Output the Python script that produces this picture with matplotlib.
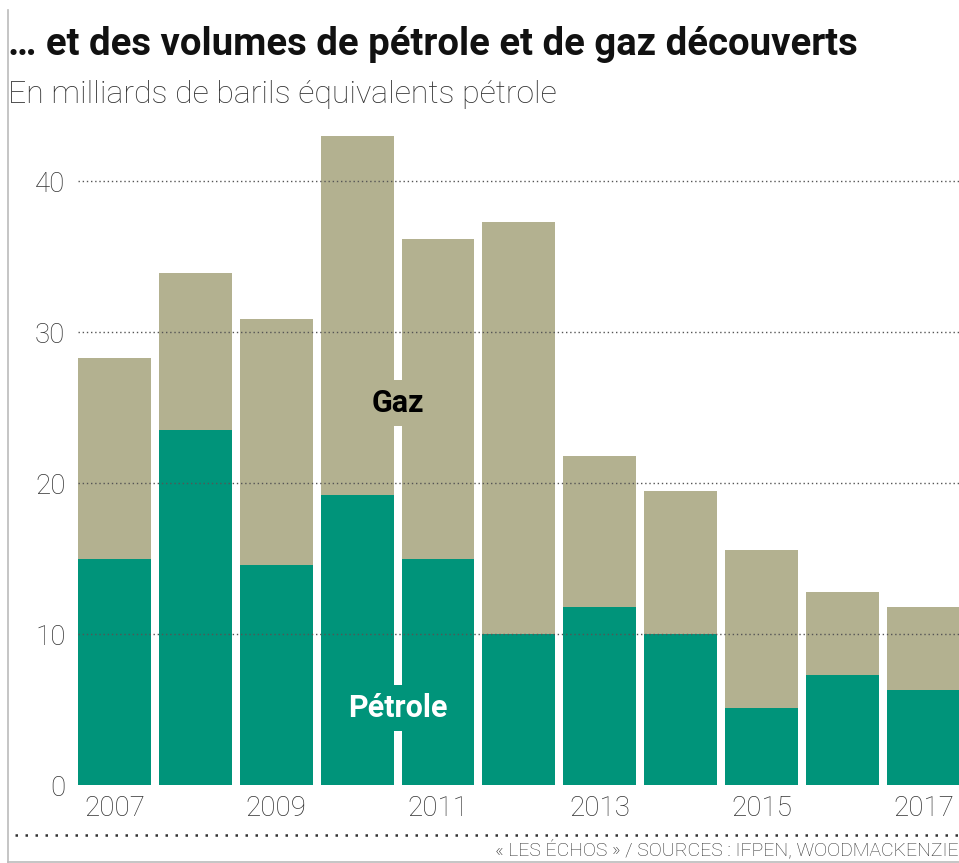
import numpy as np
import matplotlib
matplotlib.use("Agg")
import matplotlib.pyplot as plt
from matplotlib.lines import Line2D

# donnees (milliards de barils equivalent petrole)
annees = [2007, 2008, 2009, 2010, 2011, 2012, 2013, 2014, 2015, 2016, 2017]
petrole = [15.0, 23.5, 14.6, 19.2, 15.0, 10.0, 11.8, 10.0, 5.1, 7.3, 6.3]
total = [28.3, 33.9, 30.9, 43.0, 36.2, 37.3, 21.8, 19.5, 15.6, 12.8, 11.8]
gaz = [t - p for t, p in zip(total, petrole)]
yticks = [0, 10, 20, 30, 40]

vert = "#00947A"
beige = "#B3B190"

plt.rcParams['font.family'] = ['Roboto', 'DejaVu Sans']

fig = plt.figure(figsize=(9.59, 8.63), dpi=100)
ax = fig.add_axes([78/959, 78/863, 1 - 78/959, 664/863])

x = np.arange(len(annees))
ax.bar(x, petrole, width=0.9, color=vert, zorder=2)
ax.bar(x, gaz, width=0.9, bottom=petrole, color=beige, zorder=2)

ax.set_xlim(-0.45, 10.44)
ax.set_ylim(0, 44)
for v in yticks[1:]:
    ax.axhline(v, color="#555555", lw=1.0, ls=(0, (1, 2)), zorder=3)

ax.set_yticks(yticks)
ax.set_yticklabels([str(v) for v in yticks], fontsize=20, fontweight="light", color="#333333")
ax.set_xticks(x[::2])
ax.set_xticklabels([str(a) for a in annees[::2]], fontsize=20, fontweight="light", color="#333333")
ax.tick_params(axis="y", length=0, pad=9)
ax.tick_params(axis="x", length=0, pad=7)
for s in ax.spines.values():
    s.set_visible(False)

# etiquettes des series
ax.text(3.5, 25.3, "Gaz", ha="center", va="center", fontsize=22, fontweight="bold",
        color="black", zorder=5, bbox=dict(facecolor=beige, edgecolor="none", pad=6))
ax.text(3.5, 5.1, "Pétrole", ha="center", va="center", fontsize=22, fontweight="bold",
        color="white", zorder=5, bbox=dict(facecolor=vert, edgecolor="none", pad=6))

# titres
fig.text(8/959, 1 - 55/863, "… et des volumes de pétrole et de gaz découverts",
         fontsize=27.5, fontweight="bold", ha="left", va="baseline", color="#111111")
fig.text(8/959, 1 - 103/863, "En milliards de barils équivalents pétrole",
         fontsize=23, fontweight="light", ha="left", va="baseline", color="#333333")

# pied
fig.add_artist(Line2D([15/959, 1], [1 - 835/863] * 2, transform=fig.transFigure,
                      color="#333333", lw=1.8, ls=(0, (1, 3))))
fig.text(1, 1 - 855/863, "« LES ÉCHOS » / SOURCES : IFPEN, WOODMACKENZIE",
         fontsize=14, fontweight="light", ha="right", va="baseline", color="#333333")

# cadre gauche et bas
fig.add_artist(Line2D([8/959, 8/959], [0, 1 - 10/863], transform=fig.transFigure,
                      color="#BBBBBB", lw=1.2))
fig.add_artist(Line2D([8/959, 1], [1/863, 1/863], transform=fig.transFigure,
                      color="#BBBBBB", lw=1.2))

fig.savefig("out.png", dpi=100)
